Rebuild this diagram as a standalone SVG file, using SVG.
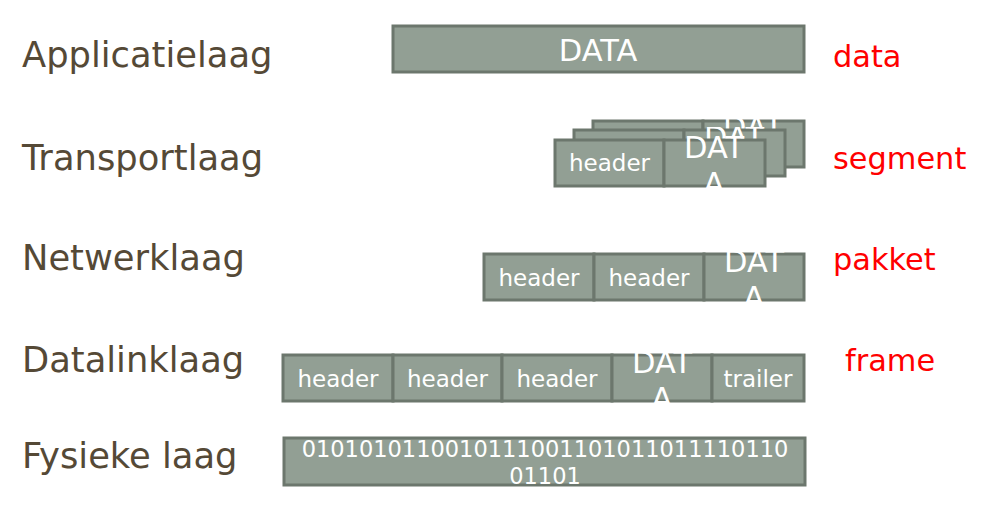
<svg xmlns="http://www.w3.org/2000/svg" width="981" height="505" viewBox="0 0 981 505">
<style>
.box{fill:#929f94;stroke:#6c776d;stroke-width:3}
.lbl{font-family:"DejaVu Sans",sans-serif;font-size:35.3px;fill:#554936}
.red{font-family:"DejaVu Sans",sans-serif;font-size:30.4px;fill:#ff0000}
.t{font-family:"DejaVu Sans",sans-serif;font-size:23px;fill:#ffffff;text-anchor:middle}
.d{font-family:"DejaVu Sans",sans-serif;font-size:30.5px;fill:#ffffff;text-anchor:middle}
.p{font-family:"DejaVu Sans",sans-serif;font-size:22.5px;fill:#ffffff;text-anchor:middle}
</style>
<defs>
<clipPath id="cT1"><rect x="703" y="117" width="101" height="54"/></clipPath>
<clipPath id="cT2"><rect x="684" y="127" width="101" height="53"/></clipPath>
<clipPath id="cT3"><rect x="664" y="136" width="101" height="53"/></clipPath>
<clipPath id="cN"><rect x="704" y="251" width="100" height="53"/></clipPath>
<clipPath id="cD"><rect x="612" y="352" width="100" height="52"/></clipPath>
<clipPath id="cP"><rect x="284" y="435" width="521" height="53"/></clipPath>
</defs>
<rect width="981" height="505" fill="#ffffff"/>
<g id="labels">
<text class="lbl" x="22" y="67">Applicatielaag</text>
<text class="lbl" x="22" y="170">Transportlaag</text>
<text class="lbl" x="22" y="270">Netwerklaag</text>
<text class="lbl" x="22" y="372">Datalinklaag</text>
<text class="lbl" x="22" y="468">Fysieke laag</text>
<text class="red" x="833" y="67">data</text>
<text class="red" x="833" y="169">segment</text>
<text class="red" x="833" y="270">pakket</text>
<text class="red" x="845" y="371">frame</text>
</g>
<g id="connectors"/>
<g id="app">
<rect class="box" x="393" y="26" width="411" height="46"/>
<text class="d" x="598" y="61">DATA</text>
</g>
<g id="transport3">
<rect class="box" x="593" y="121" width="110" height="46"/>
<rect class="box" x="703" y="121" width="101" height="46"/>
<g clip-path="url(#cT1)"><text class="d" x="753" y="138">DAT</text><text class="d" x="753" y="174">A</text></g>
</g>
<g id="transport2">
<rect class="box" x="574" y="130" width="110" height="46"/>
<rect class="box" x="684" y="130" width="101" height="46"/>
<g clip-path="url(#cT2)"><text class="d" x="734" y="148">DAT</text><text class="d" x="734" y="184">A</text></g>
</g>
<g id="transport1">
<rect class="box" x="555" y="140" width="109" height="46"/>
<text class="t" x="609.5" y="171">header</text>
<rect class="box" x="664" y="140" width="101" height="46"/>
<g clip-path="url(#cT3)"><text class="d" x="714" y="158">DAT</text><text class="d" x="714" y="194">A</text></g>
</g>
<g id="network">
<rect class="box" x="484" y="254" width="110" height="46"/>
<text class="t" x="539" y="286">header</text>
<rect class="box" x="594" y="254" width="110" height="46"/>
<text class="t" x="649" y="286">header</text>
<rect class="box" x="704" y="254" width="100" height="46"/>
<g clip-path="url(#cN)"><text class="d" x="754" y="272">DAT</text><text class="d" x="754" y="308">A</text></g>
</g>
<g id="datalink">
<rect class="box" x="283" y="355" width="110" height="46"/>
<text class="t" x="338" y="387">header</text>
<rect class="box" x="393" y="355" width="109" height="46"/>
<text class="t" x="447.5" y="387">header</text>
<rect class="box" x="502" y="355" width="110" height="46"/>
<text class="t" x="557" y="387">header</text>
<rect class="box" x="612" y="355" width="100" height="46"/>
<g clip-path="url(#cD)"><text class="d" x="662" y="373">DAT</text><text class="d" x="662" y="409">A</text></g>
<rect class="box" x="712" y="355" width="92" height="46"/>
<text class="t" x="758" y="387">trailer</text>
</g>
<g id="physical">
<rect class="box" x="284" y="438" width="521" height="47"/>
<g clip-path="url(#cP)"><text class="p" x="545" y="457">0101010110010111001101011011110110</text><text class="p" x="545" y="484">01101</text></g>
</g>
</svg>
